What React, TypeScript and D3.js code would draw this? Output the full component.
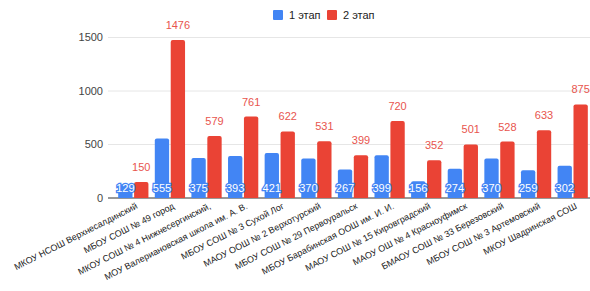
import { useEffect, useRef } from "react";
import * as d3 from "d3";

const schools = [
  "МКОУ НСОШ Верхнесалдинский",
  "МБОУ СОШ № 49 город",
  "МКОУ СОШ № 4 Нижнесергинский,",
  "МОУ Валериановская школа им. А. В.",
  "МБОУ СОШ № 3 Сухой Лог",
  "МАОУ ООШ № 2 Верхотурский",
  "МБОУ СОШ № 29 Первоуральск",
  "МБОУ Барабинская ООШ им. И. И.",
  "МАОУ СОШ № 15 Кировградский",
  "МАОУ ОШ № 4 Красноуфимск",
  "БМАОУ СОШ № 33 Березовский",
  "МБОУ СОШ № 3 Артемовский",
  "МКОУ Шадринская СОШ",
];
const stage1 = [129, 555, 375, 393, 421, 370, 267, 399, 156, 274, 370, 259, 302];
const stage2 = [150, 1476, 579, 761, 622, 531, 399, 720, 352, 501, 528, 633, 875];
const seriesNames = ["1 этап", "2 этап"];
const yTicks = [0, 500, 1000, 1500];

const BLUE = "#4285f4";
const RED = "#ea4335";

export default function App() {
  const svgRef = useRef<SVGSVGElement | null>(null);

  useEffect(() => {
    if (!svgRef.current) return;
    const width = 590;
    const height = 291;
    const svg = d3.select(svgRef.current);
    svg.selectAll("*").remove();

    const font = "Arial, 'Liberation Sans', sans-serif";
    const x = d3.scaleBand<string>().domain(schools).range([115, 591]).paddingInner(0).paddingOuter(0);
    const inner = d3.scaleBand<string>().domain(seriesNames).range([0, x.bandwidth()]).paddingInner(0.1).paddingOuter(0.2);
    const y = d3.scaleLinear().domain([0, 1500]).range([198, 37.5]);

    // gridlines
    svg.append("g")
      .selectAll("line")
      .data(yTicks)
      .join("line")
      .attr("x1", 108)
      .attr("x2", width)
      .attr("y1", (d) => y(d))
      .attr("y2", (d) => y(d))
      .attr("stroke", (d) => (d === 0 ? "#333" : "#e6e6e6"))
      .attr("stroke-width", 1);

    // y labels
    svg.append("g")
      .selectAll("text")
      .data(yTicks)
      .join("text")
      .attr("x", 103)
      .attr("y", (d) => y(d))
      .attr("dy", "0.35em")
      .attr("text-anchor", "end")
      .attr("font-family", font)
      .attr("font-size", 11)
      .attr("fill", "#444")
      .text((d) => d);

    const rows = schools.map((s, i) => ({ s, v: [stage1[i], stage2[i]] }));
    const groups = svg.append("g")
      .selectAll("g")
      .data(rows)
      .join("g")
      .attr("transform", (d) => `translate(${x(d.s)},0)`);

    // bars
    groups.selectAll("path")
      .data((d) => d.v.map((v, k) => ({ v, k })))
      .join("path")
      .attr("fill", (d) => (d.k === 0 ? BLUE : RED))
      .attr("d", (d) => {
        const x0 = inner(seriesNames[d.k])!;
        const w = inner.bandwidth();
        const y0 = y(d.v);
        const r = 2;
        return `M${x0},198 V${y0 + r} Q${x0},${y0} ${x0 + r},${y0} H${x0 + w - r} Q${x0 + w},${y0} ${x0 + w},${y0 + r} V198 Z`;
      });

    // blue labels inside at bottom
    groups.append("text")
      .attr("x", inner(seriesNames[0])! + inner.bandwidth() / 2)
      .attr("y", 192)
      .attr("text-anchor", "middle")
      .attr("font-family", font)
      .attr("font-size", 11)
      .attr("fill", "#fff")
      .attr("stroke", BLUE)
      .attr("stroke-width", 2.5)
      .attr("paint-order", "stroke")
      .text((d) => d.v[0]);

    // red labels above
    groups.append("text")
      .attr("x", inner(seriesNames[1])! + inner.bandwidth() / 2)
      .attr("y", (d) => y(d.v[1]) - 11)
      .attr("text-anchor", "middle")
      .attr("font-family", font)
      .attr("font-size", 11)
      .attr("fill", "#e8554e")
      .text((d) => d.v[1]);

    // x labels
    svg.append("g")
      .selectAll("text")
      .data(schools)
      .join("text")
      .attr("transform", (d) => `translate(${x(d)! + x.bandwidth() / 2 + 5},208) rotate(-27)`)
      .attr("text-anchor", "end")
      .attr("font-family", font)
      .attr("font-size", 9)
      .attr("fill", "#222")
      .text((d) => d);

    // legend
    const legend = svg.append("g").attr("font-family", font).attr("font-size", 11);
    const lx = [273, 327];
    seriesNames.forEach((name, k) => {
      legend.append("rect")
        .attr("x", lx[k])
        .attr("y", 10)
        .attr("width", 10)
        .attr("height", 10)
        .attr("rx", 1)
        .attr("fill", k === 0 ? BLUE : RED);
      legend.append("text")
        .attr("x", lx[k] + 16)
        .attr("y", 15)
        .attr("dy", "0.35em")
        .attr("fill", "#222")
        .text(name);
    });

    svg.attr("width", width).attr("height", height);
  }, []);

  return (
    <svg
      ref={svgRef}
      width={590}
      height={291}
      style={{ position: "absolute", left: 0, top: 0, background: "#fff" }}
    />
  );
}
